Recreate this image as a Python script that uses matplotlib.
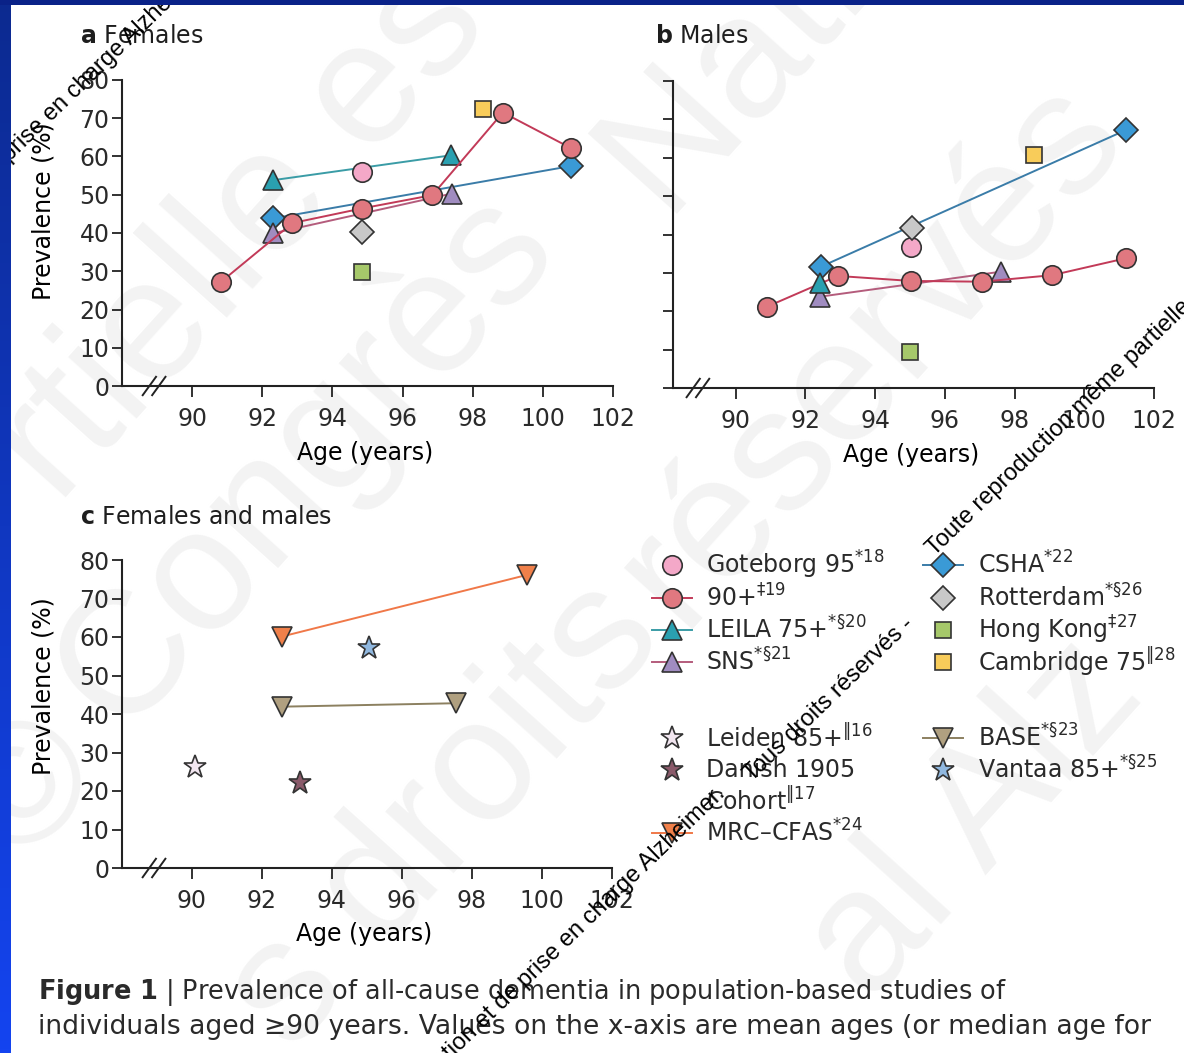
import numpy as np
import matplotlib
matplotlib.use("Agg")
import matplotlib.pyplot as plt
from matplotlib.colors import LinearSegmentedColormap

plt.rcParams.update({
    "font.family": ["DejaVu Sans"],
    "font.size": 17,
    "text.color": "#2a2a2a",
    "axes.edgecolor": "#222222",
    "axes.linewidth": 1.5,
    "xtick.color": "#222222",
    "ytick.color": "#222222",
    "xtick.labelcolor": "#2a2a2a",
    "ytick.labelcolor": "#2a2a2a",
})

W, H = 1184, 1053

# -----------------------------
#  data
# -----------------------------
# a  Females
fa_goteborg_x, fa_goteborg_y = [94.83], [56.0]
fa_90p_x = [90.82, 92.86, 94.83, 96.85, 98.86, 100.8]
fa_90p_y = [27.2, 42.6, 46.4, 49.9, 71.5, 62.2]
fa_leila_x, fa_leila_y = [92.3, 97.37], [53.8, 60.3]
fa_sns_x, fa_sns_y = [92.3, 97.4], [39.9, 50.3]
fa_csha_x, fa_csha_y = [92.3, 100.8], [43.8, 57.5]
fa_rotterdam_x, fa_rotterdam_y = [94.83], [40.3]
fa_hongkong_x, fa_hongkong_y = [94.83], [29.8]
fa_cambridge_x, fa_cambridge_y = [98.3], [72.5]

# b  Males
ma_goteborg_x, ma_goteborg_y = [95.02], [36.8]
ma_90p_x = [90.9, 92.93, 95.02, 97.06, 99.08, 101.19]
ma_90p_y = [21.2, 29.2, 27.9, 27.7, 29.4, 33.8]
ma_leila_x, ma_leila_y = [92.42], [27.3]
ma_sns_x, ma_sns_y = [92.42, 97.6], [23.8, 30.3]
ma_csha_x, ma_csha_y = [92.44, 101.19], [31.6, 67.2]
ma_rotterdam_x, ma_rotterdam_y = [95.07], [41.6]
ma_hongkong_x, ma_hongkong_y = [95.0], [9.5]
ma_cambridge_x, ma_cambridge_y = [98.55], [60.7]

# c  Females and males
fm_mrc_x, fm_mrc_y = [92.56, 99.56], [60.1, 76.1]
fm_base_x, fm_base_y = [92.56, 97.55], [41.9, 42.8]
fm_vantaa_x, fm_vantaa_y = [95.07], [57.1]
fm_leiden_x, fm_leiden_y = [90.09], [26.3]
fm_danish_x, fm_danish_y = [93.09], [22.0]

y_ticks = [0, 10, 20, 30, 40, 50, 60, 70, 80]
x_ticks = [90, 92, 94, 96, 98, 100, 102]

# -----------------------------
#  styles
# -----------------------------
EDGE = "#333333"
st = {
    "goteborg":  dict(marker="o", mfc="#f4a8c8", ms=14, ls="none"),
    "90p":       dict(marker="o", mfc="#e07880", ms=14, color="#c23a58"),
    "leila":     dict(marker="^", mfc="#2aa0b0", ms=15, color="#3a9ca6"),
    "sns":       dict(marker="^", mfc="#a08cc0", ms=15, color="#b45c7c"),
    "csha":      dict(marker="D", mfc="#3a9ad6", ms=12, color="#3a7ca8"),
    "rotterdam": dict(marker="D", mfc="#c8c8c8", ms=12, ls="none"),
    "hongkong":  dict(marker="s", mfc="#a6c86a", ms=12, ls="none"),
    "cambridge": dict(marker="s", mfc="#f8cc5a", ms=12, ls="none"),
    "mrc":       dict(marker="v", mfc="#f0804a", ms=15, color="#f07848"),
    "base":      dict(marker="v", mfc="#b0a080", ms=15, color="#8c8060"),
    "vantaa":    dict(marker="*", mfc="#90b8e0", ms=17, ls="none"),
    "leiden":    dict(marker="*", mfc="#f2e6f0", ms=17, ls="none"),
    "danish":    dict(marker="*", mfc="#8a5a6a", ms=17, ls="none"),
}


def draw(ax, key, x, y, z=3):
    kw = dict(st[key])
    ax.plot(x, y, mec=EDGE, mew=1.2, lw=1.4, zorder=z, clip_on=False, **kw)


fig = plt.figure(figsize=(W / 100, H / 100), dpi=100)

# faint background watermark (large grey letters)
bg = fig.add_axes([0, 0, 1, 1], zorder=0)
bg.set_xlim(0, W)
bg.set_ylim(H, 0)
bg.axis("off")
big = dict(fontsize=125, rotation=48, rotation_mode="anchor", color="#f3f3f3",
           family=["Liberation Sans", "DejaVu Sans"], ha="center", va="center")
for frag, cx, cy in [("rtielle es", 241, 235), ("©", 30, 790), ("Congrès", 305, 460),
                     ("National", 843, -54), ("s droits", 445, 815),
                     ("réservés", 870, 352), ("al Alz", 975, 820)]:
    bg.text(cx, cy, frag, **big)


def px_axes(x0, y0, x1, y1):
    ax = fig.add_axes([x0 / W, 1 - y1 / H, (x1 - x0) / W, (y1 - y0) / H], zorder=1)
    ax.set_facecolor("none")
    return ax


def style(ax, xlo, ylabels=True, ylab=True, ylab_y=0.57, xlab_y=-0.18):
    ax.set_xlim(xlo, 102)
    ax.set_ylim(0, 80)
    for s in ("top", "right"):
        ax.spines[s].set_visible(False)
    ax.set_xticks(x_ticks)
    ax.set_yticks(y_ticks)
    ax.tick_params(axis="y", length=7, width=1.3, pad=2, labelsize=17)
    ax.tick_params(axis="x", length=8, width=1.3, pad=7, labelsize=17)
    if not ylabels:
        ax.set_yticklabels([])
    ax.set_xlabel("Age (years)", fontsize=17)
    ax.xaxis.set_label_coords(0.495, xlab_y)
    if ylab:
        ax.set_ylabel("Prevalence (%)", fontsize=17)
        ax.yaxis.set_label_coords(-0.135, ylab_y)
    # axis break marks
    for xc in (88.78, 89.05):
        ax.plot([xc - 0.19, xc + 0.19], [-2.4, 2.4], color="#222222", lw=1.4,
                clip_on=False, zorder=5)


# panel a
ax_a = px_axes(122, 80, 613, 386)
style(ax_a, 88.0)
draw(ax_a, "csha", fa_csha_x, fa_csha_y)
draw(ax_a, "leila", fa_leila_x, fa_leila_y)
draw(ax_a, "sns", fa_sns_x, fa_sns_y)
draw(ax_a, "90p", fa_90p_x, fa_90p_y)
draw(ax_a, "goteborg", fa_goteborg_x, fa_goteborg_y)
draw(ax_a, "rotterdam", fa_rotterdam_x, fa_rotterdam_y)
draw(ax_a, "hongkong", fa_hongkong_x, fa_hongkong_y)
draw(ax_a, "cambridge", fa_cambridge_x, fa_cambridge_y)

# panel b
ax_b = px_axes(673, 81, 1154, 388)
style(ax_b, 88.2, ylabels=False, ylab=False)
draw(ax_b, "csha", ma_csha_x, ma_csha_y)
draw(ax_b, "sns", ma_sns_x, ma_sns_y)
draw(ax_b, "90p", ma_90p_x, ma_90p_y)
draw(ax_b, "leila", ma_leila_x, ma_leila_y)
draw(ax_b, "goteborg", ma_goteborg_x, ma_goteborg_y)
draw(ax_b, "rotterdam", ma_rotterdam_x, ma_rotterdam_y)
draw(ax_b, "hongkong", ma_hongkong_x, ma_hongkong_y)
draw(ax_b, "cambridge", ma_cambridge_x, ma_cambridge_y)

# panel c
ax_c = px_axes(122, 560, 612, 868)
style(ax_c, 88.0, ylab_y=0.59, xlab_y=-0.175)
draw(ax_c, "mrc", fm_mrc_x, fm_mrc_y)
draw(ax_c, "base", fm_base_x, fm_base_y)
draw(ax_c, "vantaa", fm_vantaa_x, fm_vantaa_y)
draw(ax_c, "leiden", fm_leiden_x, fm_leiden_y)
draw(ax_c, "danish", fm_danish_x, fm_danish_y)

# -----------------------------
#  overlay in pixel coordinates: titles, legend, caption, frame
# -----------------------------
ov = fig.add_axes([0, 0, 1, 1], zorder=10)
ov.set_xlim(0, W)
ov.set_ylim(H, 0)
ov.axis("off")
ov.patch.set_alpha(0)

ov.text(80, 36, r"$\mathbf{a}$ Females", fontsize=17, va="center", color="#1e1e1e")
ov.text(655, 36, r"$\mathbf{b}$ Males", fontsize=17, va="center", color="#1e1e1e")
ov.text(80, 517, r"$\mathbf{c}$ Females and males", fontsize=17, va="center", color="#1e1e1e")

legend_rows = [
    ("goteborg", r"Goteborg 95$^{*18}$", 672, 706, 565, False),
    ("90p", r"90+$^{\ddag 19}$", 672, 706, 598, True),
    ("leila", r"LEILA 75+$^{*\S 20}$", 672, 706, 630, True),
    ("sns", r"SNS$^{*\S 21}$", 672, 706, 662, True),
    ("csha", r"CSHA$^{*22}$", 943, 978, 565, True),
    ("rotterdam", r"Rotterdam$^{*\S 26}$", 943, 978, 598, False),
    ("hongkong", r"Hong Kong$^{\ddag 27}$", 943, 978, 630, False),
    ("cambridge", r"Cambridge 75$^{\Vert 28}$", 943, 978, 662, False),
    ("leiden", r"Leiden 85+$^{\Vert 16}$", 672, 706, 738, False),
    ("danish", "Danish 1905", 672, 706, 770, False),
    ("mrc", r"MRC–CFAS$^{*24}$", 672, 706, 833, True),
    ("base", r"BASE$^{*\S 23}$", 943, 978, 738, True),
    ("vantaa", r"Vantaa 85+$^{*\S 25}$", 943, 978, 770, False),
]
for key, label, mx, tx, y, with_line in legend_rows:
    if with_line:
        ov.plot([mx - 20, mx + 20], [y, y], color=st[key]["color"], lw=1.4, zorder=2)
    kw = dict(st[key])
    kw.pop("color", None)
    kw.pop("ls", None)
    ov.plot([mx], [y], ls="none", mec=EDGE, mew=1.2, zorder=3, **kw)
    ov.text(tx, y, label, fontsize=17, va="center", ha="left")
ov.text(706, 801, r"Cohort$^{\Vert 17}$", fontsize=17, va="center", ha="left")

# caption, fitted to the line widths of the reference
cap1 = ov.text(38, 992, r"$\mathbf{Figure\ 1}$ | Prevalence of all-cause dementia in population-based studies of",
               fontsize=17, va="center", ha="left")
cap2 = ov.text(38, 1027, "individuals aged ≥90 years. Values on the x-axis are mean ages (or median age for",
               fontsize=17, va="center", ha="left")
fig.canvas.draw()
r = fig.canvas.get_renderer()
for t, target in ((cap1, 972), (cap2, 1114)):
    w = t.get_window_extent(r).width
    t.set_fontsize(17 * target / w)

# small black watermark lines
wm = dict(fontsize=17, rotation=44, rotation_mode="anchor", color="black",
          family=["Liberation Sans", "DejaVu Sans"], va="baseline", zorder=20)
ov.text(526, 988, "Unités d'Évaluation et de ", ha="right", **wm)
ov.text(526, 988, "prise en charge Alzheimer.", ha="left", **wm)
ov.text(752, 782, "Tous droits réservés -", ha="left", **wm)
ov.text(935, 556, "Toute reproduction même partielle", ha="left", **wm)
ov.text(10, 162, "d'Évaluation et de ", ha="right", **wm)
ov.text(10, 162, "prise en charge Alzheimer.", ha="left", **wm)

# slide frame: dark top band and blue left band
grad = LinearSegmentedColormap.from_list("frame", ["#0c2a90", "#1444f0"])
ov.imshow(np.linspace(0, 1, 256).reshape(-1, 1), cmap=grad, aspect="auto",
          extent=(0, 11, H, 0), zorder=30)
ov.fill_between([0, W], 0, 5, color="#0a2288", zorder=31, lw=0)
ov.set_xlim(0, W)
ov.set_ylim(H, 0)

fig.savefig("out.png", dpi=100)
